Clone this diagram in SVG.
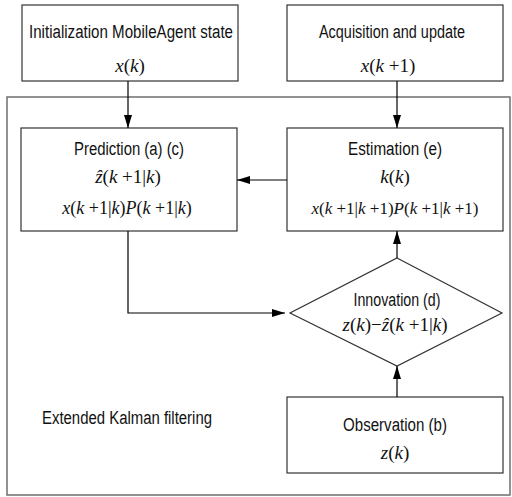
<svg xmlns="http://www.w3.org/2000/svg" width="512" height="497" viewBox="0 0 512 497">
<style>
.box{fill:#fff;stroke:#333;stroke-width:1.2}
.frame{fill:none;stroke:#777;stroke-width:1.6}
.lbl{font-family:"Liberation Sans",Arial,sans-serif;font-size:18px;fill:#111;text-anchor:middle}
.math{font-family:"Liberation Serif","Times New Roman",serif;font-size:19px;fill:#111;text-anchor:middle}
.i{font-style:italic}
.conn{fill:none;stroke:#000;stroke-width:1.2}
</style>
<defs>
<marker id="ah" markerUnits="userSpaceOnUse" markerWidth="13" markerHeight="8" refX="13" refY="4" orient="auto">
<path d="M0,0 L13,4 L0,8 z" fill="#000"/>
</marker>
</defs>
<rect class="frame" x="7" y="97" width="503" height="398"/>
<g id="init">
<rect class="box" x="22" y="5" width="216" height="76"/>
<text class="lbl" x="131" y="38" textLength="204" lengthAdjust="spacingAndGlyphs">Initialization MobileAgent state</text>
<text class="math" x="130" y="72"><tspan class="i">x</tspan>(<tspan class="i">k</tspan>)</text>
</g>
<g id="acq">
<rect class="box" x="287" y="5" width="216" height="76"/>
<text class="lbl" x="392" y="38" textLength="146" lengthAdjust="spacingAndGlyphs">Acquisition and update</text>
<text class="math" x="388" y="72"><tspan class="i">x</tspan>(<tspan class="i">k</tspan> +1)</text>
</g>
<g id="pred">
<rect class="box" x="21" y="128" width="216" height="103"/>
<text class="lbl" x="129" y="155" textLength="110" lengthAdjust="spacingAndGlyphs">Prediction (a) (c)</text>
<text class="math" x="128" y="183"><tspan class="i">ẑ</tspan>(<tspan class="i">k</tspan> +1|<tspan class="i">k</tspan>)</text>
<text class="math" x="127" y="214" style="font-size:18px"><tspan class="i">x</tspan>(<tspan class="i">k</tspan> +1|<tspan class="i">k</tspan>)<tspan class="i">P</tspan>(<tspan class="i">k</tspan> +1|<tspan class="i">k</tspan>)</text>
</g>
<g id="est">
<rect class="box" x="287" y="128" width="216" height="103"/>
<text class="lbl" x="395" y="155" textLength="94" lengthAdjust="spacingAndGlyphs">Estimation (e)</text>
<text class="math" x="395" y="183"><tspan class="i">k</tspan>(<tspan class="i">k</tspan>)</text>
<text class="math" x="395" y="214" style="font-size:17px"><tspan class="i">x</tspan>(<tspan class="i">k</tspan> +1|<tspan class="i">k</tspan> +1)<tspan class="i">P</tspan>(<tspan class="i">k</tspan> +1|<tspan class="i">k</tspan> +1)</text>
</g>
<g id="innov">
<polygon class="box" points="397,258 502,313 397,366 290,313"/>
<text class="lbl" x="397" y="306" textLength="87" lengthAdjust="spacingAndGlyphs">Innovation (d)</text>
<text class="math" x="395" y="331"><tspan class="i">z</tspan>(<tspan class="i">k</tspan>)−<tspan class="i">ẑ</tspan>(<tspan class="i">k</tspan> +1|<tspan class="i">k</tspan>)</text>
</g>
<g id="obs">
<rect class="box" x="287" y="397" width="216" height="76"/>
<text class="lbl" x="395" y="431" textLength="104" lengthAdjust="spacingAndGlyphs">Observation (b)</text>
<text class="math" x="395" y="459"><tspan class="i">z</tspan>(<tspan class="i">k</tspan>)</text>
</g>
<g id="ekf">
<text class="lbl" x="42" y="424" style="text-anchor:start" textLength="170" lengthAdjust="spacingAndGlyphs">Extended Kalman filtering</text>
</g>
<g id="connectors">
<path class="conn" d="M128,81 V128" marker-end="url(#ah)"/>
<path class="conn" d="M397,81 V128" marker-end="url(#ah)"/>
<path class="conn" d="M287,180 H237" marker-end="url(#ah)"/>
<path class="conn" d="M128,231 V313 H285" marker-end="url(#ah)"/>
<path class="conn" d="M397,258 V231" marker-end="url(#ah)"/>
<path class="conn" d="M397,397 V366" marker-end="url(#ah)"/>
</g>
</svg>
